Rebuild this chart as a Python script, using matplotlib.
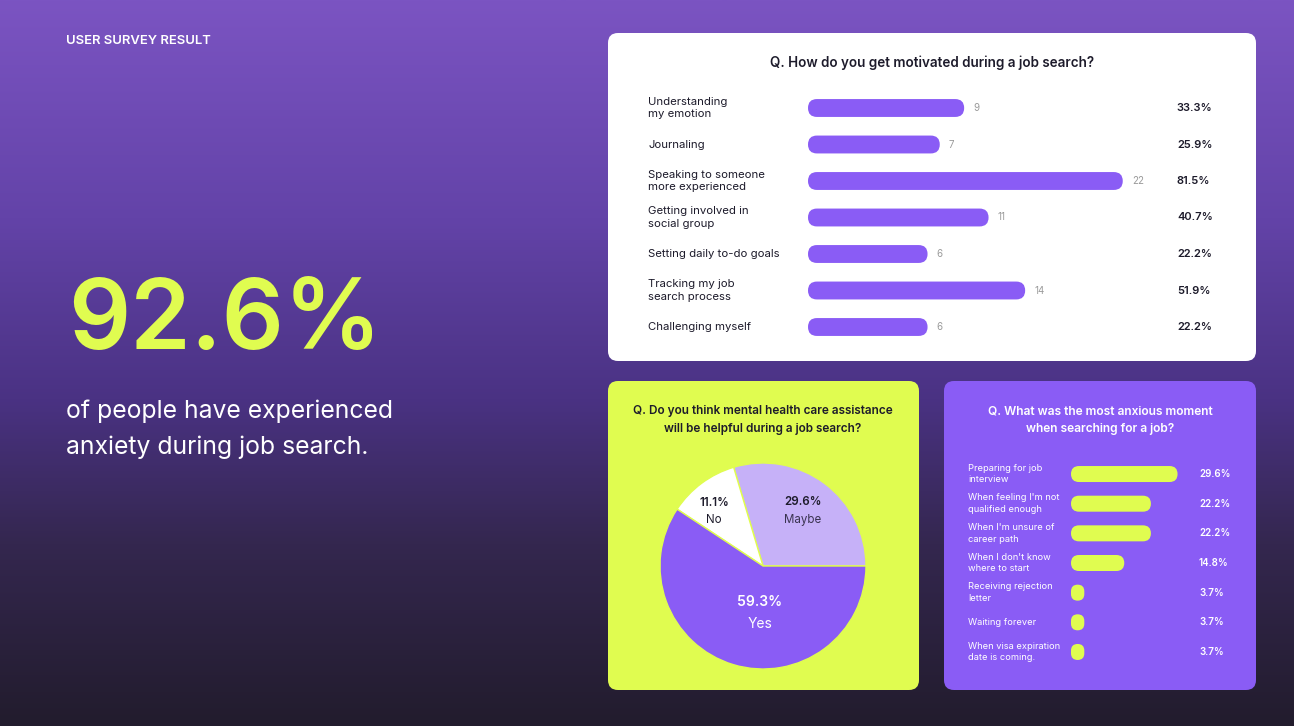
import numpy as np
import matplotlib
matplotlib.use("Agg")
import matplotlib.pyplot as plt
from matplotlib.patches import FancyBboxPatch
from matplotlib.colors import LinearSegmentedColormap

plt.rcParams['font.family'] = ['Inter', 'DejaVu Sans']

# data
headline = "92.6%"
motiv_labels = ["Understanding\nmy emotion", "Journaling", "Speaking to someone\nmore experienced",
                "Getting involved in\nsocial group", "Setting daily to-do goals",
                "Tracking my job\nsearch process", "Challenging myself"]
motiv_counts = [9, 7, 22, 11, 6, 14, 6]
motiv_pct = [33.3, 25.9, 81.5, 40.7, 22.2, 51.9, 22.2]

help_labels = ["Maybe", "No", "Yes"]
help_pct = [29.6, 11.1, 59.3]

anx_labels = ["Preparing for job\ninterview", "When feeling I'm not\nqualified enough",
              "When I'm unsure of\ncareer path", "When I don't know\nwhere to start",
              "Receiving rejection\nletter", "Waiting forever",
              "When visa expiration\ndate is coming."]
anx_pct = [29.6, 22.2, 22.2, 14.8, 3.7, 3.7, 3.7]

# colours
PURPLE = "#8a5cf5"
LIME = "#e0fc50"
LAVENDER = "#c6b1f8"
DARK = "#1d1b2b"

W, H = 1294, 726
fig = plt.figure(figsize=(W / 100, H / 100), dpi=100)


def px_axes(x0, y0, x1, y1, **kw):
    # axes from pixel box (top-left origin)
    return fig.add_axes([x0 / W, 1 - y1 / H, (x1 - x0) / W, (y1 - y0) / H], **kw)


def round_bars(ax, bars, color):
    # swap plain rectangles for pill shaped ones
    x0, x1 = ax.get_xlim()
    y0, y1 = ax.get_ylim()
    bb = ax.get_position()
    kx = abs(x1 - x0) / (bb.width * W)
    ky = abs(y1 - y0) / (bb.height * H)
    for r in bars:
        x, y, w, h = r.get_x(), r.get_y(), r.get_width(), r.get_height()
        r.set_visible(False)
        rad = min(w / kx, h / ky) / 2
        ax.add_patch(FancyBboxPatch((x, y), w, h,
                                    boxstyle=f"round,pad=0,rounding_size={rad * kx}",
                                    mutation_aspect=ky / kx, fc=color, ec="none"))


# background gradient + panels
bg = fig.add_axes([0, 0, 1, 1])
bg.set_xlim(0, W)
bg.set_ylim(H, 0)
bg.axis("off")
cmap = LinearSegmentedColormap.from_list("bg", [(0, "#7b54c2"), (0.3, "#6343a8"), (0.55, "#4a3283"),
                                                (0.75, "#34274f"), (1, "#221c2d")])
grad = np.linspace(0, 1, 256).reshape(-1, 1)
bg.imshow(grad, cmap=cmap, extent=(0, W, H, 0), aspect="auto")
for (x0, y0, x1, y1), c in [((608, 33, 1256, 361), "white"), ((608, 381, 919, 690), LIME),
                            ((944, 381, 1256, 690), PURPLE)]:
    bg.add_patch(FancyBboxPatch((x0, y0), x1 - x0, y1 - y0, boxstyle="round,pad=0,rounding_size=10",
                                fc=c, ec="none"))

# left side text
bg.text(66, 41, "USER SURVEY RESULT", color="white", fontsize=9.4, fontweight="semibold",
        va="center", ha="left")
bg.text(68, 324, headline, color=LIME, fontsize=70, fontweight="semibold", va="center", ha="left")
bg.text(66, 411, "of people have experienced", color="white", fontsize=17.8, va="center", ha="left")
bg.text(66, 447, "anxiety during job search.", color="white", fontsize=17.8, va="center", ha="left")

# panel titles
bg.text(932, 63, "Q. How do you get motivated during a job search?", color=DARK, fontsize=9.7,
        fontweight="semibold", ha="center", va="center")
bg.text(763, 420, "Q. Do you think mental health care assistance\nwill be helpful during a job search?",
        color=DARK, fontsize=8.5, fontweight="semibold", ha="center", va="center", linespacing=1.6)
bg.text(1100, 420, "Q. What was the most anxious moment\nwhen searching for a job?",
        color="white", fontsize=8.6, fontweight="semibold", ha="center", va="center", linespacing=1.6)

# top bar chart
n = len(motiv_counts)
ax1 = px_axes(808, 108 - 18.25, 1174, 327 + 18.25)
ax1.set_xlim(-3.8, 26.2)
ax1.set_ylim(n - 0.5, -0.5)
ax1.axis("off")
y = np.arange(n)
bars = ax1.barh(y, np.array(motiv_counts) + 3.8, left=-3.8, height=0.49, color=PURPLE)
round_bars(ax1, bars, PURPLE)
for i in range(n):
    ax1.text(motiv_counts[i] + 0.75, i, str(motiv_counts[i]), color="#9a9a9a", fontsize=7,
             va="center", ha="left")
    ax1.text(1.008, i, f"{motiv_pct[i]}%", transform=ax1.get_yaxis_transform(), color=DARK,
             fontsize=8, fontweight="semibold", va="center", ha="left")
    ax1.text(-0.437, i, motiv_labels[i], transform=ax1.get_yaxis_transform(), color=DARK,
             fontsize=8.2, va="center", ha="left", linespacing=1.35)

# pie chart
ax2 = px_axes(660, 463, 866, 669)
wedges, _ = ax2.pie(help_pct, colors=[LAVENDER, "white", PURPLE], startangle=0, counterclock=True,
                    radius=1, wedgeprops=dict(edgecolor=LIME, linewidth=1))
ax2.set_xlim(-1, 1)
ax2.set_ylim(-1, 1)
ax2.set_aspect("auto")
ax2.axis("off")
label_pos = [(0.66, 54), (0.71, 132), (0.46, 266)]  # (radius, angle) of each label block
for lab, p, (d, a) in zip(help_labels, help_pct, label_pos):
    ang = np.deg2rad(a)
    cx, cy = d * np.cos(ang), d * np.sin(ang)
    col = "white" if lab == "Yes" else DARK
    big = 10 if lab == "Yes" else 8.3
    gap = 0.105 if lab == "Yes" else 0.085
    ax2.text(cx, cy + gap, f"{p}%", color=col, fontsize=big, fontweight="semibold", ha="center", va="center")
    ax2.text(cx, cy - gap, lab, color=col if lab != "Maybe" else "#3a3350", fontsize=big,
             ha="center", va="center")

# right bar chart
m = len(anx_pct)
ax3 = px_axes(1071, 474 - 14.8, 1197, 652 + 14.8)
ax3.set_xlim(0, 35)
ax3.set_ylim(m - 0.5, -0.5)
ax3.axis("off")
bars3 = ax3.barh(np.arange(m), anx_pct, height=0.54, color=LIME)
round_bars(ax3, bars3, LIME)
for i in range(m):
    ax3.text(1.016, i, f"{anx_pct[i]}%", transform=ax3.get_yaxis_transform(), color="white",
             fontsize=7, fontweight="semibold", va="center", ha="left")
    ax3.text(-0.817, i, anx_labels[i], transform=ax3.get_yaxis_transform(), color="white",
             fontsize=6.7, va="center", ha="left", linespacing=1.4)

fig.savefig("out.png", dpi=100)
